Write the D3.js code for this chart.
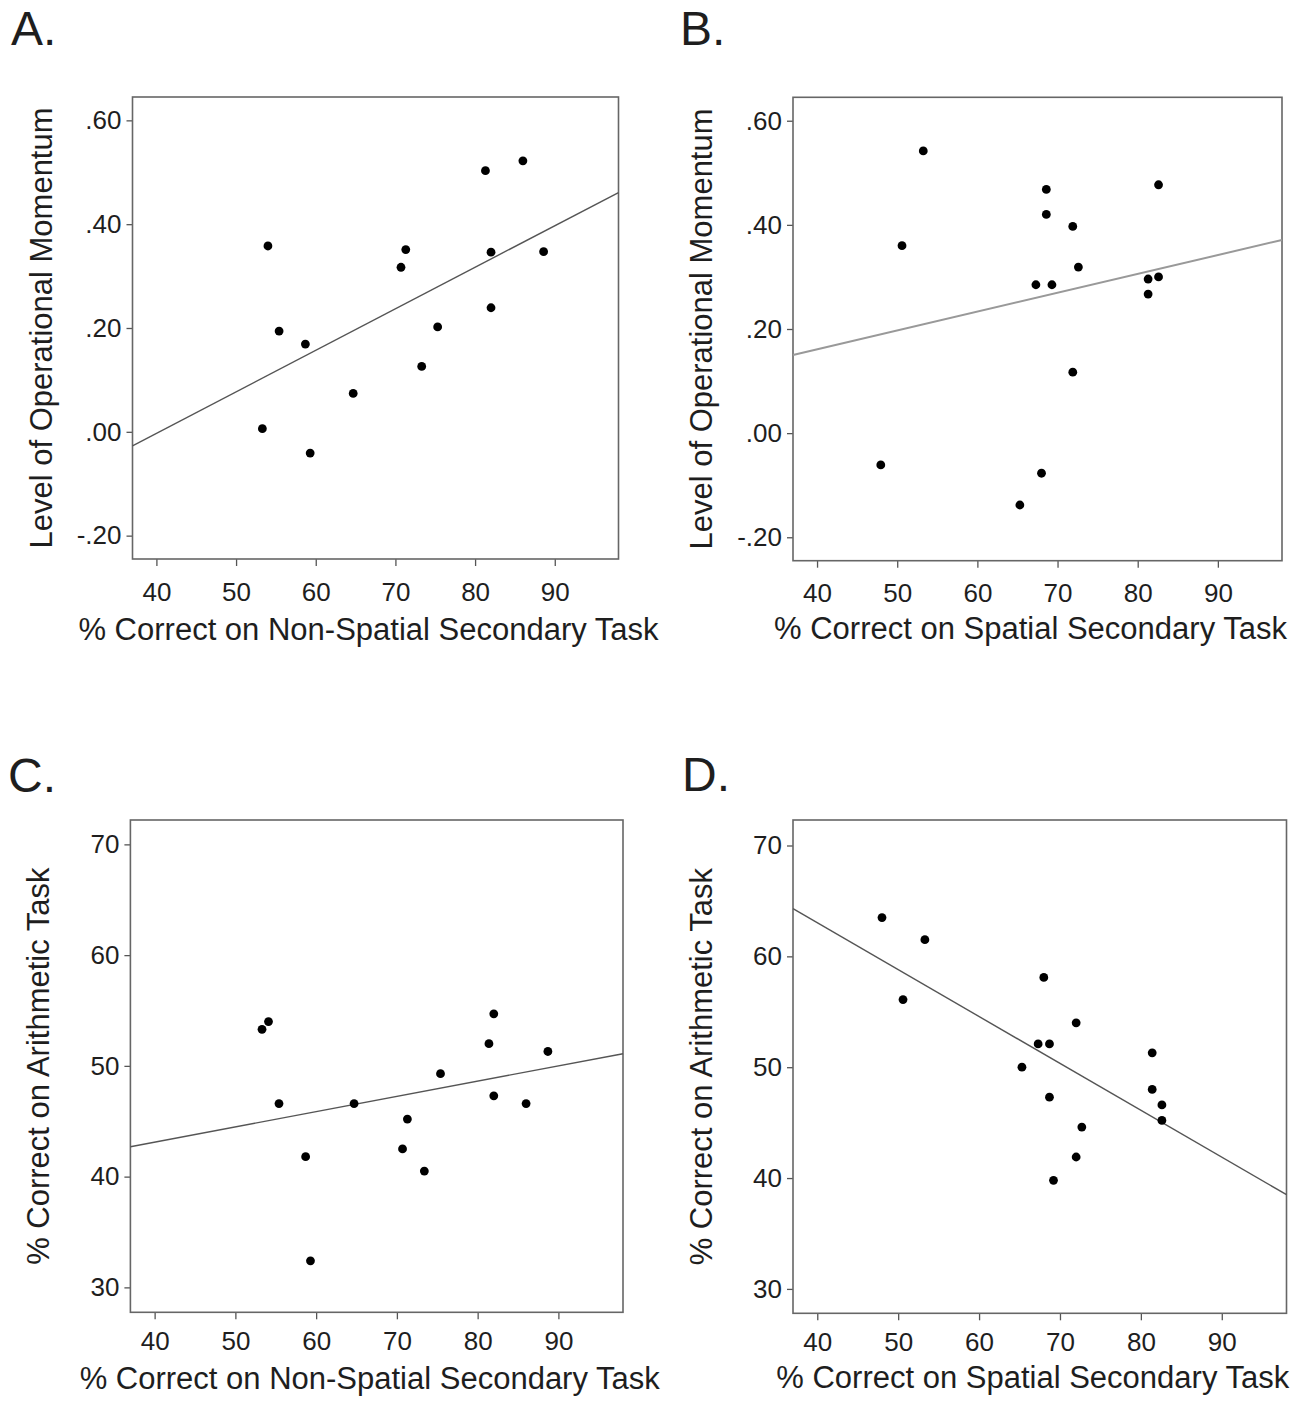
<!DOCTYPE html>
<html>
<head>
<meta charset="utf-8">
<script src="https://cdn.jsdelivr.net/npm/d3@7"></script>
<style>
  body { margin: 0; background: #fff; }
  text { font-family: "Liberation Sans", Arial, sans-serif; fill: #1e1e1e; }
</style>
</head>
<body>
<div id="figure"></div>
<script>
// Tick values shared by the panels
const xTicks = [40, 50, 60, 70, 80, 90];
const momentumTicks = [-0.2, 0, 0.2, 0.4, 0.6];
const arithmeticTicks = [30, 40, 50, 60, 70];

// A. non-spatial secondary task vs operational momentum
const nonSpatialA = [53.3, 54.0, 55.4, 58.7, 59.3, 64.7, 70.7, 71.3, 73.3, 75.3, 81.3, 82.0, 82.0, 86.0, 88.6];
const momentumA   = [0.006, 0.358, 0.194, 0.169, -0.041, 0.074, 0.317, 0.351, 0.126, 0.202, 0.503, 0.346, 0.239, 0.522, 0.347];

// B. spatial secondary task vs operational momentum
const spatialB  = [47.95, 50.6, 53.25, 65.3, 67.3, 68.0, 68.6, 68.6, 69.3, 71.9, 71.9, 72.6, 81.3, 81.3, 82.6, 82.6];
const momentumB = [-0.061, 0.36, 0.542, -0.138, 0.285, -0.077, 0.468, 0.42, 0.285, 0.397, 0.117, 0.319, 0.296, 0.267, 0.30, 0.477];

// C. non-spatial secondary task vs arithmetic
const nonSpatialC  = [53.3, 54.1, 55.4, 58.7, 59.3, 64.7, 70.7, 71.3, 73.4, 75.4, 81.4, 82.0, 82.0, 86.0, 88.7];
const arithmeticC  = [53.3, 54.0, 46.6, 41.8, 32.4, 46.6, 42.5, 45.2, 40.5, 49.3, 52.0, 54.7, 47.3, 46.6, 51.3];

// D. spatial secondary task vs arithmetic
const spatialD    = [48.0, 50.6, 53.3, 65.3, 67.3, 68.0, 68.7, 68.7, 69.2, 72.0, 72.0, 72.7, 81.4, 81.4, 82.6, 82.6];
const arithmeticD = [63.5, 56.1, 61.5, 50.0, 52.1, 58.1, 52.1, 47.3, 39.8, 54.0, 41.9, 44.6, 51.3, 48.0, 46.6, 45.2];

// fitted lines, value at the left and right edge of the x range
const xRange = [37, 98];
const fitA = [-0.027, 0.461];
const fitB = [0.150, 0.371];
const fitC = [42.7, 51.1];
const fitD = [64.3, 38.5];

const xTitleNonSpatial = "% Correct on Non-Spatial Secondary Task";
const xTitleSpatial = "% Correct on Spatial Secondary Task";
const yTitleMomentum = "Level of Operational Momentum";
const yTitleArithmetic = "% Correct on Arithmetic Task";

const svg = d3.select("#figure").append("svg")
  .attr("width", 1299)
  .attr("height", 1403);

// ".60", "-.20" style labels (plain hyphen, no leading zero)
const momentumFormat = d => d3.format(".2f")(d).replace("\u2212", "-").replace("0.", ".");

function Panel(p) {
  const x = d3.scaleLinear().domain(xRange).range([p.box[0], p.box[2]]);
  const y = d3.scaleLinear().domain(p.yDomain).range([p.box[3], p.box[1]]);
  const g = svg.append("g");

  // panel letter
  g.append("text")
    .attr("x", p.letter[1])
    .attr("y", p.letter[2])
    .attr("font-size", 48)
    .text(p.letter[0]);

  // x axis
  g.append("g")
    .attr("transform", `translate(0,${p.box[3]})`)
    .call(d3.axisBottom(x).tickValues(xTicks).tickSize(7).tickPadding(p.xTickPad))
    .call(a => a.select(".domain").remove())
    .call(a => a.selectAll("line").attr("stroke", "#555").attr("stroke-width", 1.3))
    .call(a => a.selectAll("text").attr("font-size", 26).attr("font-family", null).attr("fill", "#1e1e1e"));

  // y axis
  g.append("g")
    .attr("transform", `translate(${p.box[0]},0)`)
    .call(d3.axisLeft(y).tickValues(p.yTicks).tickSize(6).tickPadding(5).tickFormat(p.format))
    .call(a => a.select(".domain").remove())
    .call(a => a.selectAll("line").attr("stroke", "#555").attr("stroke-width", 1.3))
    .call(a => a.selectAll("text").attr("font-size", 26).attr("font-family", null).attr("fill", "#1e1e1e"));

  // frame
  g.append("rect")
    .attr("x", p.box[0])
    .attr("y", p.box[1])
    .attr("width", p.box[2] - p.box[0])
    .attr("height", p.box[3] - p.box[1])
    .attr("fill", "none")
    .attr("stroke", "#666")
    .attr("stroke-width", 1.6);

  // regression line
  g.append("line")
    .attr("x1", x(xRange[0]))
    .attr("x2", x(xRange[1]))
    .attr("y1", y(p.fit[0]))
    .attr("y2", y(p.fit[1]))
    .attr("stroke", p.fitColor)
    .attr("stroke-width", p.fitWidth);

  // points
  g.append("g")
    .selectAll("circle")
    .data(d3.zip(p.xs, p.ys))
    .join("circle")
      .attr("cx", d => x(d[0]))
      .attr("cy", d => y(d[1]))
      .attr("r", 4.4)
      .attr("fill", "#000");

  // axis titles
  g.append("text")
    .attr("x", (p.box[0] + p.box[2]) / 2 - 7)
    .attr("y", p.box[3] + p.xTitleGap)
    .attr("text-anchor", "middle")
    .attr("font-size", 31)
    .text(p.xTitle);

  g.append("text")
    .attr("transform", `translate(${p.box[0] - 81},${(p.box[1] + p.box[3]) / 2}) rotate(-90)`)
    .attr("text-anchor", "middle")
    .attr("font-size", 31)
    .text(p.yTitle);
}

Panel({
  letter: ["A.", 11, 45], box: [132.5, 97, 618.5, 559],
  yDomain: [-0.245, 0.645], yTicks: momentumTicks, format: momentumFormat,
  xs: nonSpatialA, ys: momentumA, fit: fitA, fitColor: "#555", fitWidth: 1.4,
  xTitle: xTitleNonSpatial, yTitle: yTitleMomentum, xTickPad: 17, xTitleGap: 81
});

Panel({
  letter: ["B.", 680, 45], box: [793, 97.3, 1282, 560.7],
  yDomain: [-0.245, 0.645], yTicks: momentumTicks, format: momentumFormat,
  xs: spatialB, ys: momentumB, fit: fitB, fitColor: "#999", fitWidth: 2,
  xTitle: xTitleSpatial, yTitle: yTitleMomentum, xTickPad: 16, xTitleGap: 78
});

Panel({
  letter: ["C.", 8, 792], box: [130.4, 820, 623, 1312.3],
  yDomain: [27.75, 72.2], yTicks: arithmeticTicks, format: d3.format("d"),
  xs: nonSpatialC, ys: arithmeticC, fit: fitC, fitColor: "#555", fitWidth: 1.4,
  xTitle: xTitleNonSpatial, yTitle: yTitleArithmetic, xTickPad: 12, xTitleGap: 77
});

Panel({
  letter: ["D.", 682, 791], box: [793, 820, 1286.5, 1313.3],
  yDomain: [27.8, 72.3], yTicks: arithmeticTicks, format: d3.format("d"),
  xs: spatialD, ys: arithmeticD, fit: fitD, fitColor: "#555", fitWidth: 1.4,
  xTitle: xTitleSpatial, yTitle: yTitleArithmetic, xTickPad: 12, xTitleGap: 75
});
</script>
</body>
</html>
